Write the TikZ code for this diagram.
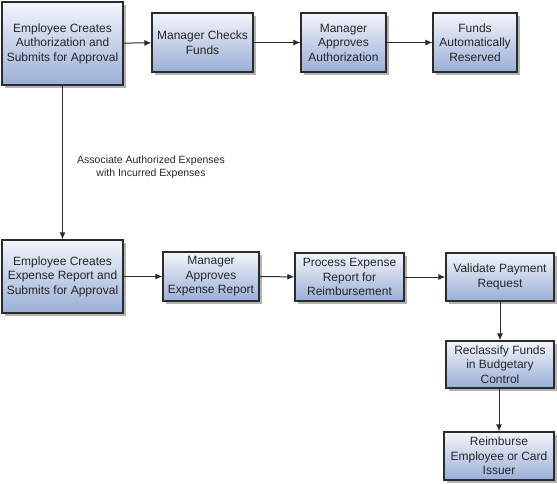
\documentclass[tikz,border=0pt]{standalone}
\usepackage{fontspec}
\setmainfont{Liberation Sans}
\usepackage{xcolor}
\usepackage{tikz}
\usetikzlibrary{arrows.meta}
\usetikzlibrary{shadows}

\definecolor{boxTop}{HTML}{F2F5FB}
\definecolor{boxBottom}{HTML}{9AAED6}
\definecolor{boxLine}{HTML}{2B2B2B}
\definecolor{shadowGray}{HTML}{B4B4B4}

\begin{document}
\begin{tikzpicture}[
	x=1pt, y=-1pt,
	box/.style={draw=boxLine, line width=1.3pt, top color=boxTop, bottom color=boxBottom,
		drop shadow={shadow xshift=3pt, shadow yshift=-3pt, fill=shadowGray, opacity=1},
		align=center, inner sep=1pt, text=black!85, font=\fontsize{12}{14.5}\selectfont},
	flow/.style={line width=1pt, boxLine, ->, >={Latex[length=7pt, width=6pt]}},
	note/.style={align=center, font=\fontsize{10.5}{13}\selectfont, text=black!85}
	]

	\useasboundingbox (0,0) rectangle (557,484);

	% authorization row
	\node[box, minimum width=121pt, minimum height=83pt] (empAuth) at (62.5,43.5) {Employee Creates\\Authorization and\\Submits for Approval};
	\node[box, minimum width=101pt, minimum height=59pt] (mgrFunds) at (202.5,42.5) {Manager Checks\\Funds};
	\node[box, minimum width=85pt, minimum height=59pt] (mgrAuth) at (343.5,42.5) {Manager\\Approves\\Authorization};
	\node[box, minimum width=84pt, minimum height=59pt] (reserved) at (475,42.5) {Funds\\Automatically\\Reserved};

	% expense report row
	\node[box, minimum width=121pt, minimum height=73pt] (empReport) at (62.5,276.5) {Employee Creates\\Expense Report and\\Submits for Approval};
	\node[box, minimum width=96pt, minimum height=49pt] (mgrReport) at (211,276.5) {Manager\\Approves\\Expense Report};
	\node[box, minimum width=109pt, minimum height=48pt] (process) at (349.5,277) {Process Expense\\Report for\\Reimbursement};
	\node[box, minimum width=108pt, minimum height=48pt] (validate) at (500,277) {Validate Payment\\Request};
	\node[box, minimum width=108pt, minimum height=47pt] (reclass) at (500,364.5) {Reclassify Funds\\in Budgetary\\Control};
	\node[box, minimum width=110pt, minimum height=48pt] (reimburse) at (499,456) {Reimburse\\Employee or Card\\Issuer};

	\draw[flow] (empAuth) -- (mgrFunds);
	\draw[flow] (mgrFunds) -- (mgrAuth);
	\draw[flow] (mgrAuth) -- (reserved);

	\draw[flow] (empAuth) -- (empReport);
	\node[note] (assoc) at (151,167) {Associate Authorized Expenses\\with Incurred Expenses};

	\draw[flow] (empReport) -- (mgrReport);
	\draw[flow] (mgrReport) -- (process);
	\draw[flow] (process) -- (validate);
	\draw[flow] (validate) -- (reclass);
	\draw[flow] (reclass.south -| reimburse.north) -- (reimburse);

\end{tikzpicture}
\end{document}
